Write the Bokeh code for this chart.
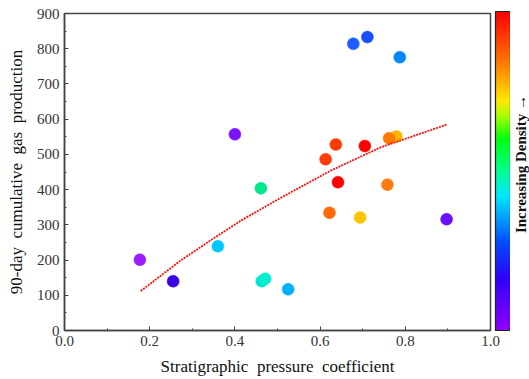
import numpy as np
from bokeh.plotting import figure
from bokeh.layouts import row
from bokeh.models import ColorBar, LinearColorMapper, FixedTicker, ColumnDataSource, PrintfTickFormatter
from bokeh.core.properties import value
from bokeh.embed import file_html
from bokeh.resources import INLINE

# scatter data
pressure = [0.177, 0.255, 0.360, 0.400, 0.461, 0.463, 0.471, 0.525, 0.622, 0.694,
            0.897, 0.678, 0.711, 0.787, 0.637, 0.613, 0.705, 0.779, 0.762, 0.642, 0.758]
gas = [201, 140, 239, 557, 404, 140, 147, 117, 334, 321,
       316, 814, 833, 776, 528, 486, 524, 551, 546, 421, 414]
point_colors = ["#9b1dff", "#3c00e6", "#00c8ff", "#7b12ff", "#00e68a", "#00e6d2", "#00f0d2",
                "#00b0ff", "#ff6a00", "#ffc400", "#6a10ff", "#1f5cff", "#1a4dff", "#0088ff",
                "#ff3a00", "#ff3c0a", "#ff0000", "#ffb400", "#ff7800", "#ff0000", "#ff7a10"]

# trend line
trend_x = [0.179, 0.273, 0.343, 0.414, 0.508, 0.625, 0.742, 0.898]
trend_y = [112, 199, 256, 312, 377, 454, 520, 585]

x_ticks = [0.0, 0.2, 0.4, 0.6, 0.8, 1.0]
y_ticks = [0, 100, 200, 300, 400, 500, 600, 700, 800, 900]

# colour bar gradient anchors
anchor_pos = [0.0, 0.16, 0.28, 0.42, 0.50, 0.60, 0.67, 0.72, 0.85, 1.0]
anchor_col = ["#9000ff", "#3000ff", "#0050ff", "#00e8ff", "#00ff90", "#00ff10",
              "#a0ff00", "#ffe800", "#ff7000", "#ff0000"]
colorbar_label = "Increasing Density \u2192"


def hex2rgb(h):
    return [int(h[i:i + 2], 16) for i in (1, 3, 5)]


rgb = np.array([hex2rgb(c) for c in anchor_col], dtype=float)
palette = []
for tt in np.linspace(0, 1, 256):
    r = np.interp(tt, anchor_pos, rgb[:, 0])
    g = np.interp(tt, anchor_pos, rgb[:, 1])
    b = np.interp(tt, anchor_pos, rgb[:, 2])
    palette.append("#%02x%02x%02x" % (int(round(r)), int(round(g)), int(round(b))))

FONT = "Liberation Serif"

p = figure(width=510, height=379, x_range=(0, 1), y_range=(0, 900),
           output_backend="svg", toolbar_location=None,
           min_border_left=64, min_border_right=20, min_border_top=13, min_border_bottom=49)
p.grid.visible = False
p.outline_line_color = "#444444"
p.outline_line_width = 1.5

src = ColumnDataSource(dict(x=pressure, y=gas, c=point_colors))
p.scatter("x", "y", source=src, size=12, fill_color="c", line_color="c", line_width=0.5)
p.line(trend_x, trend_y, line_color="#ff1010", line_width=1.8, line_dash="2 1")

p.xaxis.formatter = PrintfTickFormatter(format="%.1f")
p.xaxis.ticker = FixedTicker(ticks=x_ticks, minor_ticks=[0.1, 0.3, 0.5, 0.7, 0.9])
p.yaxis.ticker = FixedTicker(ticks=y_ticks, minor_ticks=[50, 150, 250, 350, 450, 550, 650, 750, 850])

for axes in (p.xaxis, p.yaxis):
    axes.major_tick_in = 4
    axes.major_tick_out = 0
    axes.minor_tick_in = 2
    axes.minor_tick_out = 0
    axes.axis_line_color = "#444444"
    axes.axis_line_width = 1.5
    axes.major_tick_line_color = "#444444"
    axes.minor_tick_line_color = "#444444"
    axes.major_label_text_font = FONT
    axes.major_label_text_font_size = "15px"
    axes.major_label_text_color = "#333333"
    axes.axis_label_text_font = FONT
    axes.axis_label_text_font_style = "normal"
    axes.axis_label_text_font_size = "17px"
    axes.axis_label_text_color = "#111111"
    axes.major_label_standoff = 5
    axes.axis_label_standoff = 8

p.xaxis.axis_label = "Stratigraphic\u00a0 pressure\u00a0 coefficient"
p.yaxis.axis_label = "90-day\u00a0 cumulative\u00a0 gas\u00a0 production"

mapper = LinearColorMapper(palette=palette, low=0, high=1)
cb = ColorBar(color_mapper=mapper, width=15, height=319, padding=0, margin=0,
              location=(5, 0), ticker=FixedTicker(ticks=[]),
              major_tick_line_color=None, minor_tick_line_color=None,
              major_label_text_font_size="0px",
              bar_line_color="#222222", bar_line_width=1.2,
              background_fill_alpha=0, border_line_color=None)
p.add_layout(cb, "right")

# narrow strip holding the rotated colour-bar label
q = figure(width=19, height=379, x_range=(0, 19), y_range=(379, 0),
           output_backend="svg", toolbar_location=None,
           min_border=0, min_border_left=0, min_border_right=0,
           min_border_top=0, min_border_bottom=0)
q.axis.visible = False
q.grid.visible = False
q.outline_line_color = None
q.text(x=[10], y=[180], text=[colorbar_label], angle=np.pi / 2,
       text_font=value(FONT), text_font_style="bold", text_font_size="15px",
       text_align="center", text_baseline="middle", text_color="#111111")

layout = row(p, q, spacing=0)
open("out.html", "w").write(file_html(layout, INLINE))
